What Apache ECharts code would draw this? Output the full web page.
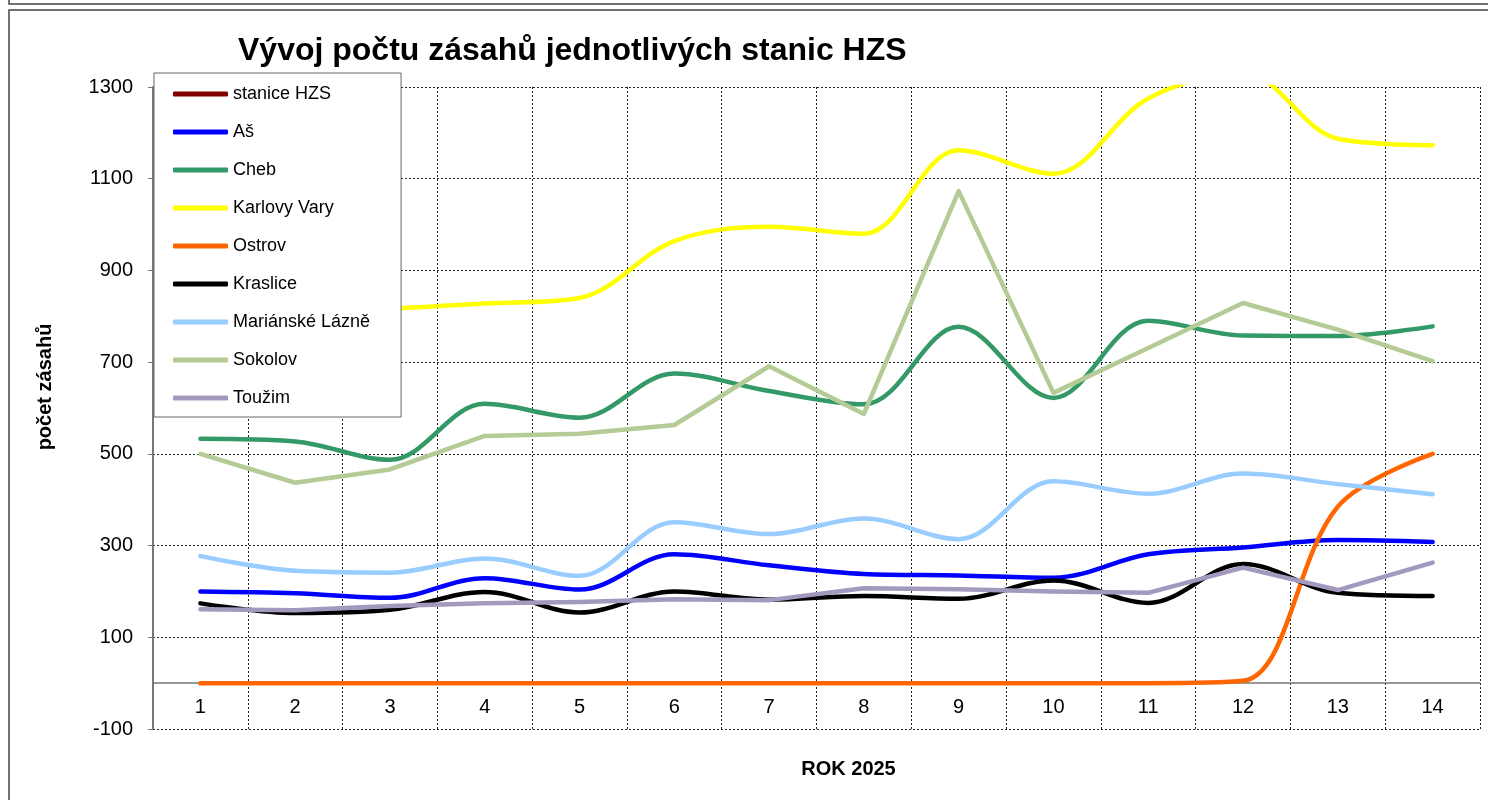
<!DOCTYPE html>
<html>
<head>
<meta charset="utf-8">
<script src="https://cdn.jsdelivr.net/npm/echarts@6.0.0/dist/echarts.min.js"></script>
<style>
  body { margin: 0; background: #fff; }
  #main { width: 1488px; height: 800px; }
</style>
</head>
<body>
<div id="main"></div>
<script>
// týdny (kategorie osy X)
var categories = ['1','2','3','4','5','6','7','8','9','10','11','12','13','14'];

var seriesNames = ['stanice HZS','Aš','Cheb','Karlovy Vary','Ostrov','Kraslice','Mariánské Lázně','Sokolov','Toužim'];
var seriesColors = ['#800000','#0000FF','#339966','#FFFF00','#FF6600','#000000','#99CCFF','#B4CB96','#A399BE'];

var stanice = [];
var as = [200, 196, 186, 229, 204, 281, 257, 238, 235, 230, 281, 296, 312, 308];
var cheb = [533, 527, 487, 609, 579, 675, 637, 608, 777, 622, 790, 758, 757, 778];
var karlovyVary = [805, 812, 817, 828, 840, 964, 995, 980, 1162, 1111, 1275, 1330, 1187, 1173];
var ostrov = [0, 0, 0, 0, 0, 0, 0, 0, 0, 0, 0, 5, 385, 500];
var kraslice = [174, 153, 160, 199, 154, 200, 182, 190, 184, 224, 175, 260, 197, 190];
var marianskeLazne = [277, 245, 241, 272, 234, 351, 325, 359, 314, 440, 413, 457, 434, 412];
var sokolov = [500, 437, 466, 539, 544, 563, 691, 587, 1073, 633, 731, 829, 771, 702];
var touzim = [161, 159, 168, 174, 177, 183, 181, 207, 205, 200, 197, 252, 203, 263];

var values = [stanice, as, cheb, karlovyVary, ostrov, kraslice, marianskeLazne, sokolov, touzim];
// Sokolov a Toužim jsou v originále bez vyhlazení
var smoothed = [true, true, true, true, true, true, true, false, false];

var font = 'Liberation Sans, Arial, sans-serif';

var series = seriesNames.map(function (name, i) {
    return {
        name: name,
        type: 'line',
        data: values[i],
        smooth: smoothed[i] ? 0.35 : false,
        symbol: 'none',
        lineStyle: { width: 4.5, color: seriesColors[i], cap: 'round', join: 'round' },
        itemStyle: { color: seriesColors[i] },
        animation: false
    };
});

option = {
    color: seriesColors,
    textStyle: { fontFamily: font },
    graphic: [
        { type: 'rect', silent: true, shape: { x: 9, y: -20, width: 1500, height: 24 },
          style: { fill: 'none', stroke: '#444', lineWidth: 1.5 } },
        { type: 'rect', silent: true, z: -10, shape: { x: 9, y: 10, width: 1500, height: 820 },
          style: { fill: 'none', stroke: '#444', lineWidth: 1.5 } }
    ],
    title: {
        text: 'Vývoj počtu zásahů jednotlivých stanic HZS',
        left: 233,
        top: 30,
        textStyle: { fontFamily: font, fontSize: 32, fontWeight: 'bold', color: '#000' }
    },
    legend: {
        orient: 'vertical',
        left: 154,
        top: 73,
        padding: [12, 31, 10, 19],
        itemGap: 20,
        itemWidth: 55,
        itemHeight: 5,
        icon: 'roundRect',
        backgroundColor: '#fff',
        borderColor: '#666',
        borderWidth: 1,
        textStyle: { fontFamily: font, fontSize: 18, color: '#000' },
        data: seriesNames
    },
    grid: { left: 153, right: 8, top: 87, bottom: 71, containLabel: false, outerBoundsMode: 'none' },
    xAxis: {
        type: 'category',
        data: categories,
        boundaryGap: true,
        name: 'ROK 2025',
        nameLocation: 'middle',
        nameGap: 30,
        nameTextStyle: { fontFamily: font, fontSize: 20, fontWeight: 'bold', color: '#000', padding: [0, 0, 0, 64] },
        axisLine: { onZero: true, lineStyle: { color: '#777', width: 1.5 } },
        axisTick: { show: false },
        axisLabel: { inside: true, margin: 12, fontFamily: font, fontSize: 20, color: '#000' },
        splitLine: { show: true, lineStyle: { color: '#222', width: 1, type: [2, 2] } }
    },
    yAxis: {
        type: 'value',
        min: -100,
        max: 1300,
        interval: 200,
        name: 'počet zásahů',
        nameLocation: 'middle',
        nameGap: 98,
        nameTextStyle: { fontFamily: font, fontSize: 20, fontWeight: 'bold', color: '#000', padding: [0, 0, 0, 42] },
        axisLine: { show: true, lineStyle: { color: '#777', width: 2 } },
        axisTick: { show: true, length: 5, lineStyle: { color: '#777' } },
        axisLabel: {
            margin: 20, fontFamily: font, fontSize: 20, color: '#000',
            formatter: function (v) { return String(v); }
        },
        splitLine: { show: true, lineStyle: { color: '#222', width: 1, type: [2, 2] } }
    },
    series: series
};

var myChart = echarts.init(document.getElementById('main'));
myChart.setOption(option);
</script>
</body>
</html>
